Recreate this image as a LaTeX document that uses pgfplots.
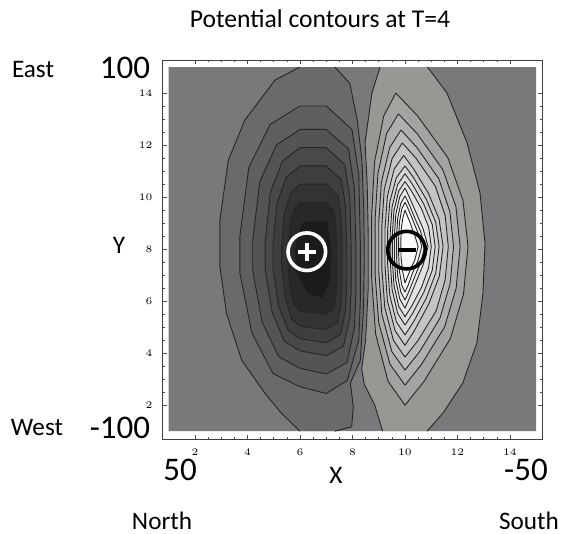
\documentclass[border=0pt]{standalone}
\usepackage{pgfplots}
\pgfplotsset{compat=1.18}
\usepackage{fontspec}
\setmainfont{Carlito}
\definecolor{bg}{RGB}{121,121,124}
\definecolor{d1}{RGB}{106,106,108}
\definecolor{d2}{RGB}{95,95,96}
\definecolor{d3}{RGB}{84,84,84}
\definecolor{d4}{RGB}{73,73,73}
\definecolor{d5}{RGB}{62,62,62}
\definecolor{d6}{RGB}{51,51,51}
\definecolor{d7}{RGB}{40,40,40}
\definecolor{d8}{RGB}{27,27,27}
\definecolor{l1}{RGB}{150,152,148}
\definecolor{l2}{RGB}{163,164,161}
\definecolor{l3}{RGB}{175,175,173}
\definecolor{l4}{RGB}{186,186,185}
\definecolor{l5}{RGB}{196,196,195}
\definecolor{l6}{RGB}{205,205,204}
\definecolor{l7}{RGB}{213,213,212}
\definecolor{l8}{RGB}{220,220,219}
\definecolor{l9}{RGB}{227,227,226}
\definecolor{l10}{RGB}{234,234,233}
\definecolor{l11}{RGB}{240,240,239}
\definecolor{l12}{RGB}{245,245,245}
\definecolor{l13}{RGB}{250,250,250}
\pgfplotsset{cl/.style={draw=black!85, line width=0.45pt, line join=round}}
\begin{document}
\begin{tikzpicture}
\path[use as bounding box] (0,0) rectangle (280.5pt,267pt);
\begin{axis}[
  at={(81.35pt,47.5pt)}, anchor=south west,
  scale only axis, width=189.65pt, height=189.5pt,
  xmin=0.77, xmax=15.22, ymin=0.7, ymax=15.27,
  xtick={2,4,...,14}, ytick={2,4,...,14},
  minor x tick num=3, minor y tick num=3,
  tick align=inside, major tick length=2pt, minor tick length=1pt,
  tick style={black!70, line width=0.3pt},
  axis line style={black!75, line width=0.45pt},
  xticklabel style={font=\fontsize{3.2}{3.2}\selectfont, yshift=-1.7pt},
  yticklabel style={font=\fontsize{3.2}{3.2}\selectfont, xshift=-1.6pt},
]
% background
\addplot[fill=bg, draw=none] coordinates {(1,1) (15,1) (15,15) (1,15) (1,1)};
% dark lobe, band 1 (open)
\addplot[fill=d1, draw=none] coordinates {(6.0,15) (5.05,14.5) (3.9,12.96) (3.27,11.42) (2.95,9.12) (2.95,7.32) (3.2,5.53) (3.78,3.73) (4.67,2.45) (5.3,1.68) (6.0,1.0) (7.33,1.0) (7.97,1.17) (8.03,1.94) (7.92,2.85) (8.3,3.73) (8.42,5.65) (8.45,7.58) (8.43,9.5) (8.36,11.42) (8.18,12.96) (7.9,14.37) (7.33,15) (6.0,15)};
\addplot[cl] coordinates {(6.0,15) (5.05,14.5) (3.9,12.96) (3.27,11.42) (2.95,9.12) (2.95,7.32) (3.2,5.53) (3.78,3.73) (4.67,2.45) (5.3,1.68) (6.0,1.0)};
\addplot[cl] coordinates {(7.33,1.0) (7.97,1.17) (8.03,1.94) (7.92,2.85) (8.3,3.73) (8.42,5.65) (8.45,7.58) (8.43,9.5) (8.36,11.42) (8.18,12.96) (7.9,14.37) (7.33,15)};
\addplot[cl, fill=d2] coordinates {(6,13.5) (7,13.5) (7.98,12.6) (8.24,10.85) (8.3,8.2) (8.3,6.05) (8.24,4.51) (7.8,2.95) (7,2.45) (6,2.71) (4.97,3.22) (4.17,4.77) (3.71,7.08) (3.71,8.49) (4.05,11.14) (4.86,12.79) (6,13.5)};
\addplot[cl, fill=d3] coordinates {(6,12.6) (7,12.6) (7.85,11.85) (8.07,10.35) (8.13,8.1) (8.13,6.28) (8.07,4.96) (7.79,3.64) (7,3.2) (6,3.42) (5.19,3.86) (4.56,5.18) (4.2,7.16) (4.2,8.35) (4.47,10.6) (5.1,12.0) (6,12.6)};
\addplot[cl, fill=d4] coordinates {(6,11.9) (7,11.9) (7.71,11.25) (7.9,9.96) (7.95,8.03) (7.95,6.49) (7.9,5.38) (7.66,4.27) (7,3.9) (6,4.09) (5.4,4.46) (4.94,5.57) (4.67,7.23) (4.67,8.25) (4.87,10.18) (5.33,11.38) (6,11.9)};
\addplot[cl, fill=d5] coordinates {(6,11.2) (7,11.2) (7.58,10.66) (7.74,9.58) (7.78,7.96) (7.78,6.64) (7.74,5.68) (7.55,4.72) (7,4.4) (6,4.56) (5.54,4.88) (5.18,5.84) (4.97,7.28) (4.97,8.14) (5.12,9.76) (5.48,10.77) (6,11.2)};
\addplot[cl, fill=d6] coordinates {(6,10.5) (7,10.5) (7.45,10.06) (7.57,9.2) (7.6,7.89) (7.6,6.79) (7.57,5.98) (7.42,5.17) (7,4.9) (6,5.04) (5.68,5.31) (5.44,6.12) (5.3,7.33) (5.3,8.04) (5.4,9.34) (5.65,10.15) (6,10.5)};
\addplot[cl, fill=d7] coordinates {(6,9.8) (7,9.8) (7.3,9.47) (7.38,8.81) (7.4,7.82) (7.4,6.97) (7.38,6.34) (7.28,5.71) (7,5.5) (6,5.6) (5.79,5.82) (5.63,6.45) (5.54,7.39) (5.54,7.93) (5.61,8.92) (5.77,9.54) (6,9.8)};
\addplot[cl, fill=d8] coordinates {(6.1,9.05) (7.05,9.1) (7.2,8.0) (7.15,6.8) (6.85,6.1) (6.3,6.3) (5.85,7.1) (5.8,8.0) (5.95,8.7) (6.1,9.05)};
% light lobe, band 1 (open)
\addplot[fill=l1, draw=none] coordinates {(10.86,15) (11.6,14.0) (12.36,12.1) (12.86,10.15) (13.05,8.2) (12.97,6.3) (12.74,4.4) (12.2,2.85) (11.45,1.7) (10.84,1.0) (9.15,1.0) (8.85,2.0) (8.45,2.8) (8.35,3.4) (8.5,4.5) (8.6,6.5) (8.6,8.5) (8.56,10.5) (8.48,12.1) (8.74,14.0) (9.05,15) (10.86,15)};
\addplot[cl] coordinates {(10.86,15) (11.6,14.0) (12.36,12.1) (12.86,10.15) (13.05,8.2) (12.97,6.3) (12.74,4.4) (12.2,2.85) (11.45,1.7) (10.84,1.0)};
\addplot[cl] coordinates {(9.15,1.0) (8.85,2.0) (8.45,2.8) (8.35,3.4) (8.5,4.5) (8.6,6.5) (8.6,8.5) (8.56,10.5) (8.48,12.1) (8.74,14.0) (9.05,15)};
\addplot[cl, fill=l2] coordinates {(9.65,14.0) (10.48,13.12) (11.63,11.52) (12.21,9.87) (12.4,8.1) (12.23,6.27) (11.73,4.56) (10.72,2.91) (10,2.0) (9.36,2.91) (8.88,4.74) (8.73,6.88) (8.73,9.28) (8.84,11.35) (9.19,13.12) (9.65,14.0)};
\addplot[cl, fill=l3] coordinates {(9.75,13.2) (10.46,12.44) (11.44,11.06) (11.94,9.63) (12.1,8.1) (11.95,6.5) (11.51,5.01) (10.63,3.57) (10,2.77) (9.43,3.57) (9.0,5.17) (8.86,7.03) (8.86,9.12) (8.97,10.91) (9.3,12.44) (9.75,13.2)};
\addplot[cl, fill=l4] coordinates {(9.85,12.58) (10.45,11.91) (11.29,10.7) (11.71,9.44) (11.85,8.1) (11.72,6.67) (11.33,5.34) (10.56,4.06) (10,3.35) (9.5,4.06) (9.12,5.49) (9.0,7.15) (9.0,9.0) (9.1,10.56) (9.42,11.91) (9.85,12.58)};
\addplot[cl, fill=l5] coordinates {(9.9,12.08) (10.43,11.48) (11.16,10.41) (11.53,9.29) (11.65,8.1) (11.53,6.82) (11.19,5.63) (10.5,4.49) (10,3.85) (9.56,4.49) (9.23,5.76) (9.12,7.25) (9.12,8.9) (9.21,10.29) (9.51,11.48) (9.9,12.08)};
\addplot[cl, fill=l6] coordinates {(9.95,11.6) (10.33,11.08) (10.9,10.13) (11.3,9.15) (11.45,8.1) (11.31,6.96) (10.91,5.9) (10.36,4.87) (10,4.3) (9.62,4.87) (9.33,6.01) (9.24,7.34) (9.24,8.8) (9.33,10.03) (9.59,11.08) (9.95,11.6)};
\addplot[cl, fill=l7] coordinates {(10,11.2) (10.33,10.74) (10.82,9.9) (11.17,9.03) (11.3,8.1) (11.17,7.08) (10.82,6.13) (10.33,5.21) (10,4.7) (9.67,5.21) (9.42,6.23) (9.34,7.42) (9.34,8.72) (9.42,9.81) (9.67,10.74) (10,11.2)};
\addplot[cl, fill=l8] coordinates {(10,10.9) (10.29,10.48) (10.72,9.72) (11.04,8.94) (11.15,8.1) (11.04,7.19) (10.72,6.35) (10.29,5.53) (10,5.08) (9.72,5.53) (9.51,6.44) (9.44,7.5) (9.44,8.66) (9.51,9.64) (9.72,10.48) (10,10.9)};
\addplot[cl, fill=l9] coordinates {(10,10.6) (10.25,10.23) (10.63,9.55) (10.9,8.85) (11.0,8.1) (10.9,7.29) (10.63,6.53) (10.25,5.8) (10,5.4) (9.76,5.8) (9.58,6.61) (9.52,7.56) (9.52,8.6) (9.58,9.48) (9.76,10.23) (10,10.6)};
\addplot[cl, fill=l10] coordinates {(10,10.35) (10.16,10.01) (10.42,9.41) (10.69,8.78) (10.88,8.1) (10.69,7.39) (10.42,6.73) (10.16,6.09) (10,5.73) (9.8,6.09) (9.65,6.8) (9.6,7.63) (9.6,8.55) (9.65,9.34) (9.8,10.01) (10,10.35)};
\addplot[cl, fill=l11] coordinates {(10,10.05) (10.14,9.76) (10.36,9.23) (10.59,8.69) (10.76,8.1) (10.59,7.48) (10.36,6.91) (10.14,6.35) (10,6.04) (9.84,6.35) (9.72,6.97) (9.68,7.69) (9.68,8.49) (9.72,9.17) (9.84,9.76) (10,10.05)};
\addplot[cl, fill=l12] coordinates {(10,9.8) (10.12,9.55) (10.31,9.09) (10.5,8.61) (10.64,8.1) (10.5,7.57) (10.31,7.14) (10.12,6.61) (10,6.35) (9.88,6.61) (9.79,7.14) (9.76,7.75) (9.76,8.44) (9.79,9.04) (9.88,9.55) (10,9.8)};
\addplot[cl, fill=l13] coordinates {(10,9.5) (10.2,9.0) (10.38,8.5) (10.5,8.1) (10.38,7.6) (10.2,7.2) (10,6.7) (9.9,7.2) (9.85,7.7) (9.84,8.3) (9.86,8.8) (9.92,9.2) (10,9.5)};
% charge symbols
\draw[white, line width=1.8pt] (axis cs:6.26,7.9) circle[radius=9.4pt];
\draw[white, line width=2pt] ([xshift=-4.4pt]axis cs:6.26,7.9) -- ([xshift=4.4pt]axis cs:6.26,7.9);
\draw[white, line width=2pt] ([yshift=-4.4pt]axis cs:6.26,7.9) -- ([yshift=4.4pt]axis cs:6.26,7.9);
\draw[black, line width=1.8pt] (axis cs:10.06,7.96) circle[radius=9.4pt];
\draw[black, line width=2pt] ([xshift=-4.5pt]axis cs:10.06,7.96) -- ([xshift=4.5pt]axis cs:10.06,7.96);
\end{axis}
\node[font=\fontsize{12.8}{14}\selectfont, inner sep=0pt] at (160pt,257.5pt) {Potential contours at T=4};
\node[font=\fontsize{12.6}{14}\selectfont, inner sep=0pt] at (16.5pt,232pt) {East};
\node[font=\fontsize{16.5}{18}\selectfont, inner sep=0pt] at (62.5pt,233pt) {100};
\node[font=\fontsize{12.6}{14}\selectfont, inner sep=0pt] at (59.5pt,144.5pt) {Y};
\node[font=\fontsize{12.6}{14}\selectfont, inner sep=0pt] at (18.5pt,53pt) {West};
\node[font=\fontsize{16.5}{18}\selectfont, inner sep=0pt] at (60pt,53pt) {-100};
\node[font=\fontsize{16.5}{18}\selectfont, inner sep=0pt] at (90pt,32pt) {50};
\node[font=\fontsize{12.6}{14}\selectfont, inner sep=0pt] at (168pt,29.5pt) {X};
\node[font=\fontsize{16.5}{18}\selectfont, inner sep=0pt] at (263pt,32pt) {-50};
\node[font=\fontsize{12.6}{14}\selectfont, inner sep=0pt] at (81pt,6.5pt) {North};
\node[font=\fontsize{12.6}{14}\selectfont, inner sep=0pt] at (264.5pt,6.5pt) {South};
\end{tikzpicture}
\end{document}
